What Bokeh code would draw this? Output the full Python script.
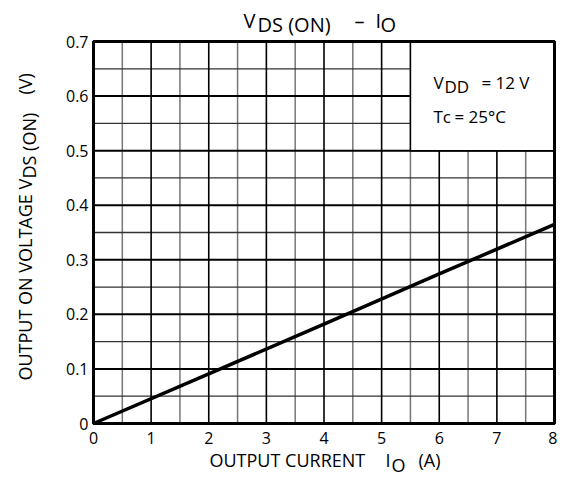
import math
from bokeh.plotting import figure
from bokeh.models import Label, FixedTicker, Range1d, LinearAxis
from bokeh.embed import file_html
from bokeh.resources import INLINE

# ---- data ----
io_a = [0, 2, 4, 6, 8]
vds_v = [0, 0.091, 0.182, 0.274, 0.365]
x_lim = [0, 8]
y_lim = [0, 0.7]
x_ticks = [0, 1, 2, 3, 4, 5, 6, 7, 8]
x_minor = [0.5, 1.5, 2.5, 3.5, 4.5, 5.5, 6.5, 7.5]
y_ticks = [0, 0.1, 0.2, 0.3, 0.4, 0.5, 0.6, 0.7]
y_tick_labels = ["0", "0.1", "0.2", "0.3", "0.4", "0.5", "0.6", "0.7"]
y_minor = [0.05, 0.15, 0.25, 0.35, 0.45, 0.55, 0.65]
box_x = [5.5, 8]
box_y = [0.5, 0.7]

FONT = "Open Sans"
W, H = 557, 483
FL, FR, FT, FB = 93, 554, 41, 423   # plot-area edges in canvas pixels

kx = (FR - FL) / (x_lim[1] - x_lim[0])
ky = (FB - FT) / (y_lim[1] - y_lim[0])
xr = Range1d(x_lim[0] - FL / kx, x_lim[1] + (W - FR) / kx)
yr = Range1d(y_lim[0] - (H - FB) / ky, y_lim[1] + FT / ky)

p = figure(width=W, height=H, output_backend="svg", toolbar_location=None,
           x_range=xr, y_range=yr, x_axis_location=None, y_axis_location=None,
           min_border=0)
p.background_fill_color = "white"
p.border_fill_color = "white"
p.outline_line_color = None
p.grid.visible = False

xax = LinearAxis(ticker=FixedTicker(ticks=x_ticks), fixed_location=y_lim[0])
yax = LinearAxis(ticker=FixedTicker(ticks=y_ticks), fixed_location=x_lim[0],
                 major_label_overrides={t: s for t, s in zip(y_ticks, y_tick_labels)})
p.add_layout(xax, "below")
p.add_layout(yax, "left")
for ax in (xax, yax):
    ax.axis_line_color = None
    ax.major_tick_line_color = None
    ax.minor_tick_line_color = None
    ax.major_tick_out = 0
    ax.major_tick_in = 0
    ax.major_label_text_font = FONT
    ax.major_label_text_font_size = "16px"
    ax.major_label_text_color = "black"
xax.major_label_standoff = 8
yax.major_label_standoff = 5

# grid (minor first, then major)
p.segment(x0=x_minor, y0=[y_lim[0]] * len(x_minor), x1=x_minor, y1=[y_lim[1]] * len(x_minor),
          line_color="#777777", line_width=1.5)
p.segment(x0=[x_lim[0]] * len(y_minor), y0=y_minor, x1=[x_lim[1]] * len(y_minor), y1=y_minor,
          line_color="#333333", line_width=1.3)
p.segment(x0=x_ticks, y0=[y_lim[0]] * len(x_ticks), x1=x_ticks, y1=[y_lim[1]] * len(x_ticks),
          line_color="black", line_width=1.6)
p.segment(x0=[x_lim[0]] * len(y_ticks), y0=y_ticks, x1=[x_lim[1]] * len(y_ticks), y1=y_ticks,
          line_color="black", line_width=2)

p.quad(left=[box_x[0]], right=[box_x[1]], bottom=[box_y[0]], top=[box_y[1]],
       fill_color="white", line_color="black", line_width=1.5)
p.line(io_a, vds_v, line_color="black", line_width=3.5)
p.quad(left=[x_lim[0]], right=[x_lim[1]], bottom=[y_lim[0]], top=[y_lim[1]],
       fill_color=None, line_color="black", line_width=3)


def lab(text, px, py, size, angle=0.0):
    p.add_layout(Label(x=px, y=py, x_units="canvas", y_units="canvas",
                       text=text, angle=angle,
                       text_font=FONT, text_font_size=f"{size}px",
                       text_color="black", text_align="left",
                       text_baseline="alphabetic"))

# title
lab("V", 243, 20, 20)
lab("DS (ON)", 257, 24, 20)
lab("–", 354, 20, 20)
lab("I", 375, 20, 20)
lab("O", 380, 24, 20)

# box text
lab("V", 433, 82, 17)
lab("DD", 444, 86, 17)
lab("=", 481, 82, 17)
lab("12 V", 495, 82, 17)
lab("Tc", 433, 116, 17)
lab("=", 454, 116, 17)
lab("25°C", 468, 116, 17)

# x axis label
lab("OUTPUT CURRENT", 209, 459, 18)
lab("I", 385, 459, 18)
lab("O", 391, 464, 18)
lab("(A)", 418, 459, 18)

# y axis label (rotated)
R = math.pi / 2
lab("OUTPUT ON VOLTAGE V", 24, 380, 18, R)
lab("DS (ON)", 28, 178, 18, R)
lab("(V)", 24, 94, 18, R)

open("out.html", "w").write(file_html(p, INLINE))
